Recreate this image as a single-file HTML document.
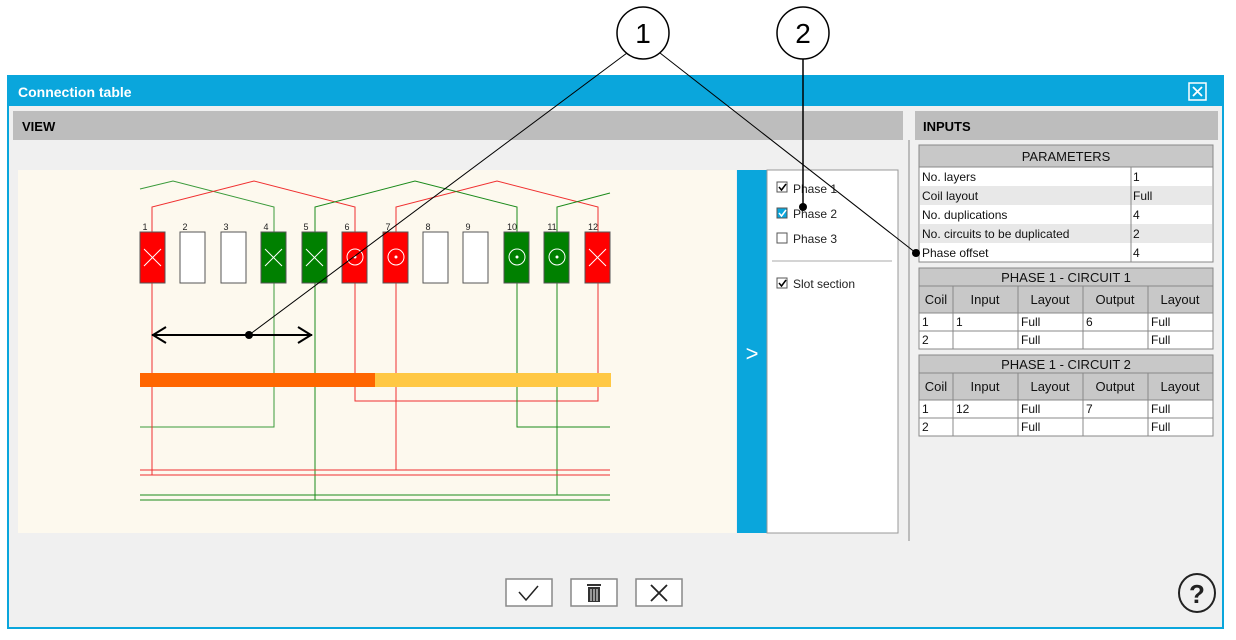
<!DOCTYPE html>
<html><head><meta charset="utf-8"><style>
html,body{margin:0;padding:0;background:#fff;}
svg{display:block;font-family:"Liberation Sans",Arial,sans-serif;}
</style></head><body>
<svg width="1236" height="640" viewBox="0 0 1236 640" xmlns="http://www.w3.org/2000/svg">
<!-- window -->
<rect x="8" y="76" width="1215" height="552" fill="#f0f0f0" stroke="#0aa6dc" stroke-width="2"/>
<rect x="8" y="76" width="1215" height="30" fill="#0aa6dc"/>
<text x="18" y="97" font-size="14" font-weight="bold" fill="#fff">Connection table</text>
<rect x="1189" y="83" width="17" height="17" fill="none" stroke="#fff" stroke-width="1.5"/>
<path d="M1193 87 L1202 96 M1202 87 L1193 96" stroke="#fff" stroke-width="1.8"/>
<!-- headers -->
<rect x="13" y="111" width="890" height="29" fill="#bdbdbd"/>
<text x="22" y="131" font-size="13" font-weight="bold">VIEW</text>
<rect x="915" y="111" width="303" height="29" fill="#bdbdbd"/>
<text x="923" y="131" font-size="13" font-weight="bold">INPUTS</text>
<line x1="909" y1="140" x2="909" y2="541" stroke="#888" stroke-width="1"/>
<!-- diagram area -->
<rect x="18" y="170" width="718" height="363" fill="#fdf9ee"/>
<rect x="737" y="170" width="30" height="363" fill="#0aa6dc"/>
<text x="752" y="361" font-size="22" fill="#fff" text-anchor="middle">&gt;</text>
<rect x="767" y="170" width="131" height="363" fill="#fff" stroke="#999"/>
<!-- options -->
<g font-size="12" fill="#222">
<rect x="777" y="182" width="10" height="10" fill="#fff" stroke="#555"/><path d="M779 187 l2.5 3 l4.5 -6" stroke="#000" stroke-width="1.5" fill="none"/>
<text x="793" y="193">Phase 1</text>
<rect x="777" y="208" width="10" height="10" fill="#0aa6dc" stroke="#555"/><path d="M779 213 l2.5 3 l4.5 -6" stroke="#fff" stroke-width="1.5" fill="none"/>
<text x="793" y="218">Phase 2</text>
<rect x="777" y="233" width="10" height="10" fill="#fff" stroke="#555"/>
<text x="793" y="243">Phase 3</text>
<line x1="772" y1="261" x2="892" y2="261" stroke="#aaa"/>
<rect x="777" y="278" width="10" height="10" fill="#fff" stroke="#555"/><path d="M779 283 l2.5 3 l4.5 -6" stroke="#000" stroke-width="1.5" fill="none"/>
<text x="793" y="288">Slot section</text>
</g>
<!-- wires -->
<g fill="none" stroke-width="1">
<polyline points="140,189 173,181 274,207 274,427 140,427" stroke="#3a9a3a"/>
<polyline points="152,283 152,207 254,181 355,207 355,401 598,401 598,207 497,181 396,207 396,470" stroke="#f03030"/>
<polyline points="152,283 152,475" stroke="#f03030"/>
<polyline points="315,500 315,207 415,181 517,207 517,427 610,427" stroke="#1a8a1a"/>
<polyline points="557,495 557,207 610,193" stroke="#1a8a1a"/>
<line x1="140" y1="470" x2="610" y2="470" stroke="#f03030"/>
<line x1="140" y1="475" x2="610" y2="475" stroke="#f03030"/>
<line x1="140" y1="495" x2="610" y2="495" stroke="#1a8a1a"/>
<line x1="140" y1="500" x2="610" y2="500" stroke="#1a8a1a"/>
</g>
<rect x="140" y="373" width="235" height="14" fill="#ff6600"/>
<rect x="375" y="373" width="236" height="14" fill="#ffc844"/>
<!-- slots -->
<g font-size="9" fill="#222" text-anchor="middle">
<text x="145" y="230">1</text><text x="185" y="230">2</text><text x="226" y="230">3</text><text x="266" y="230">4</text><text x="306" y="230">5</text><text x="347" y="230">6</text><text x="388" y="230">7</text><text x="428" y="230">8</text><text x="468" y="230">9</text><text x="512" y="230">10</text><text x="552" y="230">11</text><text x="593" y="230">12</text>
</g>
<g stroke="#555" stroke-width="1">
<rect x="140" y="232" width="25" height="51" fill="#ff0000"/>
<rect x="180" y="232" width="25" height="51" fill="#fff"/>
<rect x="221" y="232" width="25" height="51" fill="#fff"/>
<rect x="261" y="232" width="25" height="51" fill="#008000"/>
<rect x="302" y="232" width="25" height="51" fill="#008000"/>
<rect x="342" y="232" width="25" height="51" fill="#ff0000"/>
<rect x="383" y="232" width="25" height="51" fill="#ff0000"/>
<rect x="423" y="232" width="25" height="51" fill="#fff"/>
<rect x="463" y="232" width="25" height="51" fill="#fff"/>
<rect x="504" y="232" width="25" height="51" fill="#008000"/>
<rect x="544" y="232" width="25" height="51" fill="#008000"/>
<rect x="585" y="232" width="25" height="51" fill="#ff0000"/>
</g>
<g stroke="#fff" stroke-width="1" fill="none">
<path d="M144 249 l17 17 M161 249 l-17 17 M265 249 l17 17 M282 249 l-17 17 M306 249 l17 17 M323 249 l-17 17 M589 249 l17 17 M606 249 l-17 17"/>
<circle cx="355" cy="257" r="8"/><circle cx="396" cy="257" r="8"/><circle cx="517" cy="257" r="8"/><circle cx="557" cy="257" r="8"/>
</g>
<g fill="#fff"><circle cx="355" cy="257" r="1.5"/><circle cx="396" cy="257" r="1.5"/><circle cx="517" cy="257" r="1.5"/><circle cx="557" cy="257" r="1.5"/></g>
<!-- arrow -->
<g stroke="#000" stroke-width="2" fill="none">
<line x1="152" y1="335" x2="312" y2="335"/>
<polyline points="166,327 153,335 166,343"/>
<polyline points="298,327 311,335 298,343"/>
</g>
<!-- parameters table -->
<g font-size="12" fill="#111">
<rect x="919" y="145" width="294" height="117" fill="#fff" stroke="#888"/>
<rect x="919" y="145" width="294" height="22" fill="#c8c8c8" stroke="#888"/>
<text x="1066" y="161" text-anchor="middle" font-size="13">PARAMETERS</text>
<rect x="920" y="186" width="292" height="19" fill="#e8e8e8"/>
<rect x="920" y="224" width="292" height="19" fill="#e8e8e8"/>
<line x1="1131" y1="167" x2="1131" y2="262" stroke="#888"/>
<text x="922" y="181">No. layers</text><text x="1133" y="181">1</text>
<text x="922" y="200">Coil layout</text><text x="1133" y="200">Full</text>
<text x="922" y="219">No. duplications</text><text x="1133" y="219">4</text>
<text x="922" y="238">No. circuits to be duplicated</text><text x="1133" y="238">2</text>
<text x="922" y="257">Phase offset</text><text x="1133" y="257">4</text>
</g>
<!-- circuit tables -->
<g font-size="12" fill="#111">
<rect x="919" y="268" width="294" height="81" fill="#fff" stroke="#888"/>
<rect x="919" y="268" width="294" height="45" fill="#c8c8c8" stroke="#888"/>
<line x1="919" y1="286" x2="1213" y2="286" stroke="#888"/>
<line x1="919" y1="331" x2="1213" y2="331" stroke="#888"/>
<g stroke="#888"><line x1="953" y1="286" x2="953" y2="349"/><line x1="1018" y1="286" x2="1018" y2="349"/><line x1="1083" y1="286" x2="1083" y2="349"/><line x1="1148" y1="286" x2="1148" y2="349"/></g>
<text x="1066" y="282" text-anchor="middle" font-size="13">PHASE 1 - CIRCUIT 1</text>
<g font-size="13" text-anchor="middle"><text x="936" y="304">Coil</text><text x="985" y="304">Input</text><text x="1050" y="304">Layout</text><text x="1115" y="304">Output</text><text x="1180" y="304">Layout</text></g>
<text x="922" y="326">1</text><text x="956" y="326">1</text><text x="1021" y="326">Full</text><text x="1086" y="326">6</text><text x="1151" y="326">Full</text>
<text x="922" y="344">2</text><text x="1021" y="344">Full</text><text x="1151" y="344">Full</text>

<rect x="919" y="355" width="294" height="81" fill="#fff" stroke="#888"/>
<rect x="919" y="355" width="294" height="45" fill="#c8c8c8" stroke="#888"/>
<line x1="919" y1="373" x2="1213" y2="373" stroke="#888"/>
<line x1="919" y1="418" x2="1213" y2="418" stroke="#888"/>
<g stroke="#888"><line x1="953" y1="373" x2="953" y2="436"/><line x1="1018" y1="373" x2="1018" y2="436"/><line x1="1083" y1="373" x2="1083" y2="436"/><line x1="1148" y1="373" x2="1148" y2="436"/></g>
<text x="1066" y="369" text-anchor="middle" font-size="13">PHASE 1 - CIRCUIT 2</text>
<g font-size="13" text-anchor="middle"><text x="936" y="391">Coil</text><text x="985" y="391">Input</text><text x="1050" y="391">Layout</text><text x="1115" y="391">Output</text><text x="1180" y="391">Layout</text></g>
<text x="922" y="413">1</text><text x="956" y="413">12</text><text x="1021" y="413">Full</text><text x="1086" y="413">7</text><text x="1151" y="413">Full</text>
<text x="922" y="431">2</text><text x="1021" y="431">Full</text><text x="1151" y="431">Full</text>
</g>
<!-- buttons -->
<g fill="#fff" stroke="#888" stroke-width="1.5">
<rect x="506" y="579" width="46" height="27"/><rect x="571" y="579" width="46" height="27"/><rect x="636" y="579" width="46" height="27"/>
</g>
<path d="M519 592 l7 8 l12 -14" stroke="#222" stroke-width="1.5" fill="none"/>
<g fill="#333"><rect x="587" y="584" width="14" height="2"/><rect x="588" y="587" width="12" height="15"/></g>
<g stroke="#fff" stroke-width="1"><line x1="591" y1="589" x2="591" y2="601"/><line x1="594" y1="589" x2="594" y2="601"/><line x1="597" y1="589" x2="597" y2="601"/></g>
<path d="M651 585 l16 16 M667 585 l-16 16" stroke="#222" stroke-width="1.8"/>
<ellipse cx="1197" cy="593" rx="18" ry="19" fill="none" stroke="#222" stroke-width="2"/>
<text x="1197" y="603" font-size="26" font-weight="bold" text-anchor="middle" fill="#222">?</text>
<!-- callouts -->
<g stroke="#000" stroke-width="1" fill="none">
<line x1="627" y1="53" x2="249" y2="335"/>
<line x1="660" y1="53" x2="916" y2="253"/>
<line x1="803" y1="59" x2="803" y2="207" stroke-width="1.5"/>
</g>
<circle cx="643" cy="33" r="26" fill="#fff" stroke="#000" stroke-width="1.5"/>
<circle cx="803" cy="33" r="26" fill="#fff" stroke="#000" stroke-width="1.5"/>
<text x="643" y="43" font-size="28" text-anchor="middle">1</text>
<text x="803" y="43" font-size="28" text-anchor="middle">2</text>
<circle cx="249" cy="335" r="4" fill="#000"/>
<circle cx="803" cy="207" r="4" fill="#000"/>
<circle cx="916" cy="253" r="4" fill="#000"/>
</svg>
</body></html>
